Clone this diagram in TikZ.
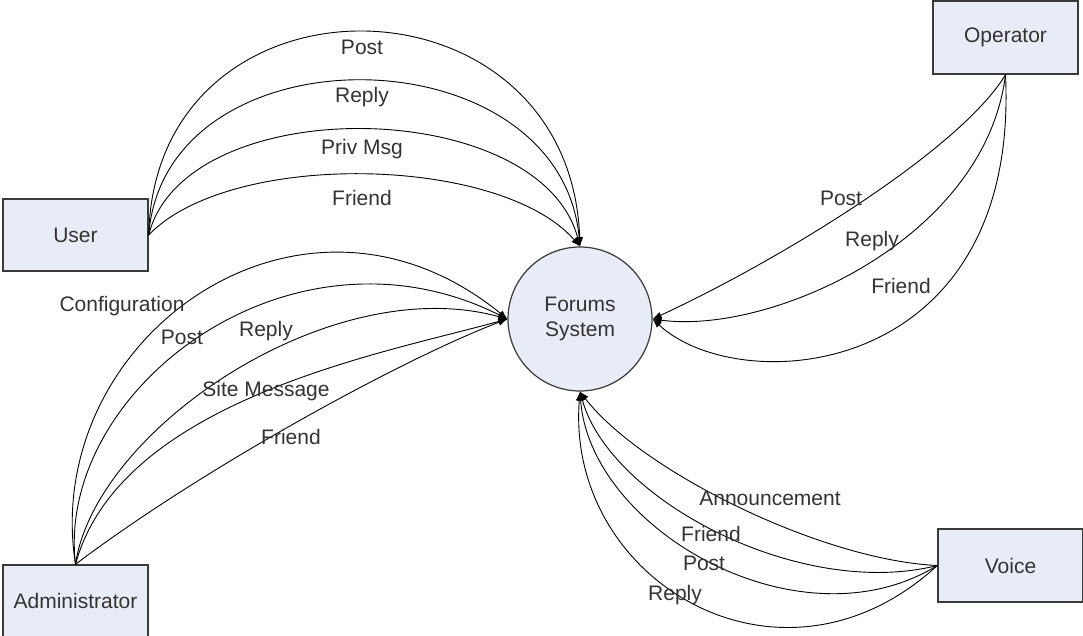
\documentclass[tikz,border=0pt]{standalone}
\usepackage{fontspec}
\setmainfont{Liberation Sans}
\usetikzlibrary{arrows.meta}
\definecolor{boxfill}{HTML}{E8ECF6}
\definecolor{boxline}{HTML}{3A3A3A}
\definecolor{txt}{HTML}{333333}
\tikzset{
  entity/.style={draw=boxline, line width=1.4pt, fill=boxfill, minimum width=145pt, minimum height=72pt, inner sep=0pt, text=txt, font=\fontsize{21}{25}\selectfont},
  proc/.style={draw=boxline, line width=1.2pt, fill=boxfill, circle, minimum size=144pt, inner sep=0pt, text=txt, align=center, font=\fontsize{21}{25}\selectfont},
  flow/.style={draw=black, line width=0.9pt, -{Latex[length=9pt,width=7pt]}},
  lbl/.style={text=txt, inner sep=0pt, font=\fontsize{21}{25}\selectfont}
}
\begin{document}
\begin{tikzpicture}[x=1pt,y=-1pt]
\useasboundingbox (0,0) rectangle (1083,635);
\fill[white] (0,0) rectangle (1083,635);

\node[entity] (user) at (75.5,235) {User};
\node[entity] (admin) at (75.5,601) {Administrator};
\node[entity, minimum height=73pt] (oper) at (1005.5,37.5) {Operator};
\node[entity, minimum height=73pt] (voice) at (1010.5,565.5) {Voice};
\node[proc] (sys) at (580,319) {Forums\\System};

% User flows
\draw[flow] (user.east) .. controls (155,-40) and (570,-35) .. (sys.north);
\draw[flow] (user.east) .. controls (165,25) and (560,30) .. (sys.north);
\draw[flow] (user.east) .. controls (185,90) and (540,95) .. (sys.north);
\draw[flow] (user.east) .. controls (230,150) and (500,155) .. (sys.north);
\node[lbl] (u1) at (362,47) {Post};
\node[lbl] (u2) at (362,97) {Reply};
\node[lbl] (u3) at (362,149) {Priv Msg};
\node[lbl] (u4) at (362,198) {Friend};

% Administrator flows
\draw[flow] (admin.north) .. controls (40,340) and (300,150) .. (sys.west);
\draw[flow] (admin.north) .. controls (55,390) and (290,210) .. (sys.west);
\draw[flow] (admin.north) .. controls (95,430) and (330,270) .. (sys.west);
\draw[flow] (admin.north) .. controls (120,400) and (385,353) .. (sys.west);
\draw[flow] (admin.north) .. controls (200,470) and (400,360) .. (sys.west);
\node[lbl] (a1) at (122,306) {Configuration};
\node[lbl] (a2) at (182,337) {Post};
\node[lbl] (a3) at (266,331) {Reply};
\node[lbl] (a4) at (266,391) {Site Message};
\node[lbl] (a5) at (291,437) {Friend};

% Operator flows
\draw[flow] (oper.south) .. controls (960,150) and (780,260) .. (sys.east);
\draw[flow] (oper.south) .. controls (985,240) and (770,335) .. (sys.east);
\draw[flow] (oper.south) .. controls (1020,380) and (740,400) .. (sys.east);
\node[lbl] (o1) at (841,198) {Post};
\node[lbl] (o2) at (872,241) {Reply};
\node[lbl] (o3) at (901,286) {Friend};

% Voice flows
\draw[flow] (voice.west) .. controls (820,560) and (640,470) .. (sys.south);
\draw[flow] (voice.west) .. controls (800,600) and (610,500) .. (sys.south);
\draw[flow] (voice.west) .. controls (800,650) and (590,530) .. (sys.south);
\draw[flow] (voice.west) .. controls (780,710) and (565,580) .. (sys.south);
\node[lbl] (v1) at (770,498) {Announcement};
\node[lbl] (v2) at (711,534) {Friend};
\node[lbl] (v3) at (704,563) {Post};
\node[lbl] (v4) at (675,595) {Reply};
\end{tikzpicture}
\end{document}
